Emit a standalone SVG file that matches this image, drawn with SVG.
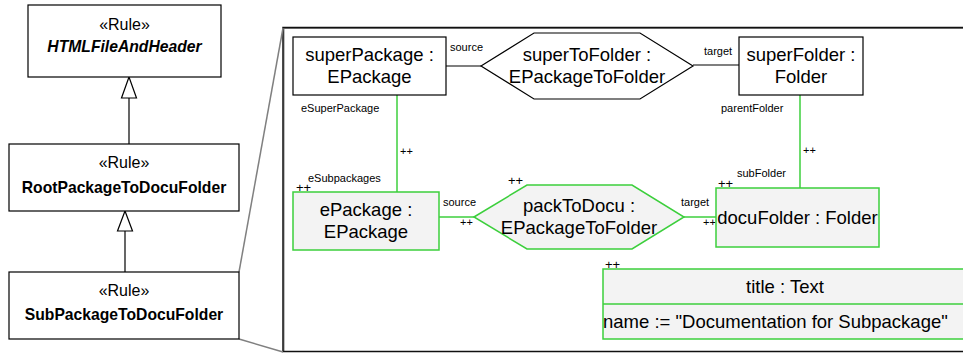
<svg xmlns="http://www.w3.org/2000/svg" width="963" height="356" viewBox="0 0 963 356">
<style>
text{font-family:"Liberation Sans",Arial,sans-serif;fill:#000}
.st{font-size:16px;text-anchor:middle}
.nm{font-size:15.7px;font-weight:bold;text-anchor:middle}
.lb{font-size:18.5px;text-anchor:middle}
.lbs{font-size:18.5px;text-anchor:start}
.sm{font-size:11px}
.pp{font-size:13px}
.box{fill:#fff;stroke:#000;stroke-width:1.2}
.gbox{fill:#f3f3f3;stroke:#3ccf3c;stroke-width:1.5}
.ln{stroke:#000;stroke-width:1.2;fill:none}
.gln{stroke:#3ccf3c;stroke-width:1.5;fill:none}
.grey{stroke:#808080;stroke-width:1.5;fill:none}
.tri{fill:#fff;stroke:#000;stroke-width:1.2}
</style>
<g id="frame">
<rect x="284" y="28.5" width="700" height="323" fill="#fff" stroke="#808080" stroke-width="1"/>
<rect x="283" y="27.5" width="700" height="324" fill="none" stroke="#111" stroke-width="1.5"/>
</g>
<g id="zoom-lines">
<line class="grey" x1="239" y1="272" x2="283" y2="28"/>
<line class="grey" x1="239" y1="339" x2="283" y2="352"/>
</g>
<g id="connectors">
<line class="ln" x1="129" y1="98" x2="129" y2="144"/>
<polygon class="tri" points="129,77 121.5,98 136.5,98"/>
<line class="ln" x1="125" y1="231" x2="125" y2="272"/>
<polygon class="tri" points="125,211 117.5,231 132.5,231"/>
<line class="ln" x1="446" y1="66" x2="481" y2="66"/>
<line class="ln" x1="693" y1="65" x2="739" y2="65"/>
<line class="gln" x1="397" y1="95" x2="397" y2="192"/>
<line class="gln" x1="800" y1="95" x2="800" y2="188"/>
<line class="gln" x1="439" y1="217" x2="474" y2="217"/>
<line class="gln" x1="684" y1="217" x2="716" y2="217"/>
<text class="sm" x="450" y="51">source</text>
<text class="sm" x="704" y="55">target</text>
<text class="sm" x="301" y="112">eSuperPackage</text>
<text class="sm" x="400" y="155">++</text>
<text class="sm" x="308" y="182">eSubpackages</text>
<text class="sm" x="443" y="206">source</text>
<text class="sm" x="460" y="226">++</text>
<text class="sm" x="681" y="206">target</text>
<text class="sm" x="703" y="226">++</text>
<text class="sm" x="721" y="112">parentFolder</text>
<text class="sm" x="803" y="154">++</text>
<text class="sm" x="737" y="177">subFolder</text>
</g>
<g id="HTMLFileAndHeader">
<rect class="box" x="28" y="5" width="193" height="72"/>
<text class="st" x="124.5" y="30">«Rule»</text>
<text class="nm" x="124.5" y="52" font-style="italic">HTMLFileAndHeader</text>
</g>
<g id="RootPackageToDocuFolder">
<rect class="box" x="9" y="144" width="230" height="67"/>
<text class="st" x="124" y="168">«Rule»</text>
<text class="nm" x="124" y="193">RootPackageToDocuFolder</text>
</g>
<g id="SubPackageToDocuFolder">
<rect class="box" x="9" y="272" width="230" height="67"/>
<text class="st" x="124" y="296">«Rule»</text>
<text class="nm" x="124" y="320">SubPackageToDocuFolder</text>
</g>
<g id="superPackage">
<rect class="box" x="293" y="37" width="153" height="58"/>
<text class="lb" x="369.5" y="61">superPackage :</text>
<text class="lb" x="369.5" y="83">EPackage</text>
</g>
<g id="superToFolder">
<polygon class="box" points="481,66 534,33 640,33 693,66 640,99 534,99"/>
<text class="lb" x="587" y="61">superToFolder :</text>
<text class="lb" x="587" y="83">EPackageToFolder</text>
</g>
<g id="superFolder">
<rect class="box" x="739" y="37" width="124" height="58"/>
<text class="lb" x="801" y="61">superFolder :</text>
<text class="lb" x="801" y="83">Folder</text>
</g>
<g id="ePackage">
<rect class="gbox" x="293" y="192" width="146" height="58"/>
<text class="lb" x="366" y="216">ePackage :</text>
<text class="lb" x="366" y="238">EPackage</text>
<text class="pp" x="296" y="192">++</text>
</g>
<g id="packToDocu">
<polygon class="gbox" points="474,217 527,185 632,185 684,217 632,249 527,249"/>
<text class="lb" x="579" y="212">packToDocu :</text>
<text class="lb" x="579" y="234">EPackageToFolder</text>
<text class="pp" x="508" y="185">++</text>
</g>
<g id="docuFolder">
<rect class="gbox" x="716" y="188" width="163" height="59"/>
<text class="lb" x="797.5" y="224">docuFolder : Folder</text>
<text class="pp" x="718" y="188">++</text>
</g>
<g id="title">
<rect class="gbox" x="603" y="269" width="400" height="70"/>
<line class="gln" x1="603" y1="304" x2="1003" y2="304"/>
<text class="lb" x="785" y="293">title : Text</text>
<text class="lbs" x="603" y="328">name := "Documentation for Subpackage"</text>
<text class="pp" x="605" y="269">++</text>
</g>
</svg>
